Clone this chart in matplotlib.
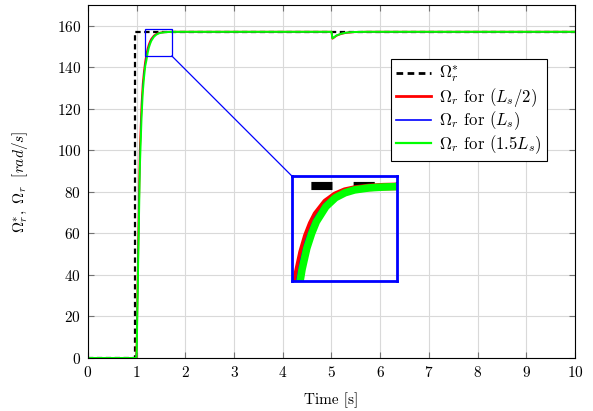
import matplotlib
matplotlib.use("Agg")
import matplotlib.pyplot as plt
from matplotlib.patches import Rectangle, ConnectionPatch

plt.rcParams['font.family'] = ['cmr10', 'DejaVu Serif']
plt.rcParams['mathtext.fontset'] = 'cm'
plt.rcParams['axes.formatter.use_mathtext'] = True

# ---------------- data ----------------
t_ref = [0.0, 0.97, 0.97, 10.0]
w_ref = [0.0, 0.0, 157.08, 157.08]

t_red = [0.0, 0.99, 1.0, 1.03, 1.065, 1.1, 1.125, 1.15, 1.175, 1.2, 1.225, 1.25, 1.275,
         1.3, 1.35, 1.4, 1.45, 1.5, 1.575, 1.65, 1.75, 2.0,
         5.0, 5.02, 5.05, 5.1, 5.2, 5.3, 5.45, 5.7, 10.0]
w_red = [0.0, 0.0, 7.0, 52.0, 100.0, 122.0, 132.0, 138.0, 142.7, 146.3, 149.0, 151.0, 152.5,
         153.65, 155.15, 156.0, 156.5, 156.75, 156.95, 157.05, 157.1, 157.1,
         157.1, 153.8, 154.3, 155.2, 156.1, 156.6, 156.95, 157.1, 157.1]

t_blue = [0.0, 0.99, 1.0, 1.03, 1.065, 1.1, 1.125, 1.15, 1.175, 1.2, 1.225, 1.25, 1.275,
          1.3, 1.35, 1.4, 1.45, 1.5, 1.575, 1.65, 1.75, 2.0,
          5.0, 5.02, 5.05, 5.1, 5.2, 5.3, 5.45, 5.7, 10.0]
w_blue = [0.0, 0.0, 5.0, 48.0, 96.0, 119.0, 130.0, 136.8, 141.6, 145.0, 148.0, 150.3, 151.9,
          153.2, 154.9, 155.85, 156.4, 156.7, 156.93, 157.03, 157.1, 157.1,
          157.1, 154.0, 154.4, 155.3, 156.2, 156.7, 157.0, 157.1, 157.1]

t_green = [0.0, 0.99, 1.0, 1.03, 1.065, 1.1, 1.125, 1.15, 1.175, 1.2, 1.225, 1.25, 1.275,
           1.3, 1.35, 1.4, 1.45, 1.5, 1.575, 1.65, 1.75, 2.0,
           5.0, 5.02, 5.05, 5.1, 5.2, 5.3, 5.45, 5.7, 10.0]
w_green = [0.0, 0.0, 3.0, 45.0, 92.0, 116.0, 128.0, 135.0, 140.5, 143.4, 146.9, 149.5, 151.3,
           152.75, 154.6, 155.7, 156.3, 156.65, 156.9, 157.0, 157.08, 157.1,
           157.1, 154.0, 154.4, 155.3, 156.2, 156.7, 157.0, 157.1, 157.1]

labels = [r'$\Omega_r^{*}$', r'$\Omega_r$ for $(L_s/2)$',
          r'$\Omega_r$ for $(L_s)$', r'$\Omega_r$ for $(1.5L_s)$']

x_ticks = [0, 1, 2, 3, 4, 5, 6, 7, 8, 9, 10]
y_ticks = [0, 20, 40, 60, 80, 100, 120, 140, 160]
zoom_x = [1.17, 1.72]
zoom_y = [145.5, 158.4]

# ---------------- figure ----------------
fig = plt.figure(figsize=(5.93, 4.11), dpi=100)
ax = fig.add_axes([0.1484, 0.129, 0.8212, 0.8588])

series = [(t_ref, w_ref, 'black', 1.6, (0, (2.4, 1.6))),
          (t_red, w_red, '#ff0000', 1.4, '-'),
          (t_blue, w_blue, '#0000ff', 0.8, '-'),
          (t_green, w_green, '#00ff00', 1.4, '-')]

for (tt, ww, c, lw, ls), lab in zip(series, labels):
    ax.plot(tt, ww, color=c, lw=lw, linestyle=ls, label=lab)

ax.set_xlim(0, 10)
ax.set_ylim(0, 170)
ax.set_xticks(x_ticks)
ax.set_yticks(y_ticks)
ax.grid(True, color='#d9d9d9', lw=0.8)
ax.set_axisbelow(True)
ax.tick_params(direction='in', length=4, color='0.45', top=True, right=True,
               labelsize=11, pad=5)
for s in ax.spines.values():
    s.set_linewidth(0.8)
ax.set_xlabel('Time [s]', fontsize=11, labelpad=9)
ax.set_ylabel(r'$\Omega_r^{*},\ \Omega_r\ \ [rad/s]$', fontsize=11, labelpad=19)

leg = ax.legend(loc='upper left', bbox_to_anchor=(0.622, 0.847), borderaxespad=0,
                fancybox=False, edgecolor='black', framealpha=1, fontsize=12,
                handlelength=2.1, handletextpad=0.5, borderpad=0.3, labelspacing=0.05)
leg.get_frame().set_linewidth(0.8)
for h, w in zip(leg.get_lines(), [2.0, 2.0, 1.2, 1.6]):
    h.set_linewidth(w)

# zoom rectangle on main axes
ax.add_patch(Rectangle((zoom_x[0], zoom_y[0]), zoom_x[1] - zoom_x[0], zoom_y[1] - zoom_y[0],
                       fill=False, edgecolor='#0000ff', lw=0.9, zorder=5))

# magnified inset (spy)
mag = 3.9
axin = ax.inset_axes([0.418, 0.219, 0.2156, 0.2975])
axin.set_facecolor('none')
for (tt, ww, c, lw, ls) in series:
    if ls == '-':
        axin.plot(tt, ww, color=c, lw=lw * mag, solid_capstyle='butt')
    else:
        axin.plot(tt, ww, color=c, lw=1.5 * mag, linestyle=(1.4, (2.6, 2.6)))
axin.set_xlim(zoom_x)
axin.set_ylim(zoom_y)
axin.set_xticks([])
axin.set_yticks([])
for s in axin.spines.values():
    s.set_edgecolor('#0000ff')
    s.set_linewidth(2.0)

con = ConnectionPatch(xyA=(zoom_x[1], zoom_y[0]), coordsA=ax.transData,
                      xyB=(0, 1), coordsB=axin.transAxes, color='#0000ff', lw=0.9)
fig.add_artist(con)

fig.savefig('out.png', dpi=100)
